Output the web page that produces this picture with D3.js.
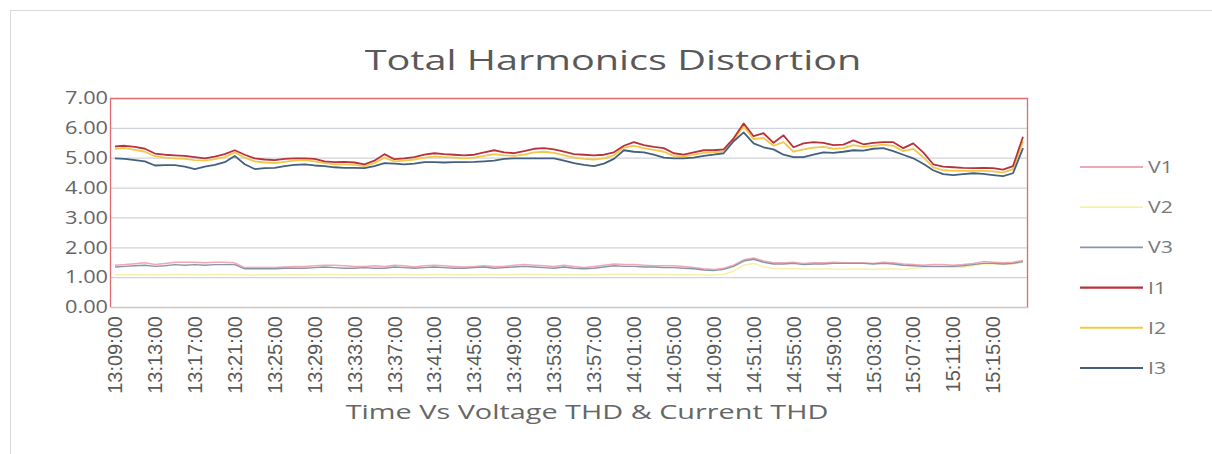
<!DOCTYPE html>
<html><head><meta charset="utf-8">
<script src="https://cdn.jsdelivr.net/npm/d3@7"></script>
<style>body{margin:0;background:#fff;}svg{display:block;}</style>
</head><body><svg id="c" width="1212" height="454"></svg>
<script>
const categories = ["13:09:00","13:10:00","13:11:00","13:12:00","13:13:00","13:14:00","13:15:00","13:16:00","13:17:00","13:18:00","13:19:00","13:20:00","13:21:00","13:22:00","13:23:00","13:24:00","13:25:00","13:26:00","13:27:00","13:28:00","13:29:00","13:30:00","13:31:00","13:32:00","13:33:00","13:34:00","13:35:00","13:36:00","13:37:00","13:38:00","13:39:00","13:40:00","13:41:00","13:42:00","13:43:00","13:44:00","13:45:00","13:46:00","13:47:00","13:48:00","13:49:00","13:50:00","13:51:00","13:52:00","13:53:00","13:54:00","13:55:00","13:56:00","13:57:00","13:58:00","13:59:00","14:00:00","14:01:00","14:02:00","14:03:00","14:04:00","14:05:00","14:06:00","14:07:00","14:08:00","14:09:00","14:48:00","14:49:00","14:50:00","14:51:00","14:52:00","14:53:00","14:54:00","14:55:00","14:56:00","14:57:00","14:58:00","14:59:00","15:00:00","15:01:00","15:02:00","15:03:00","15:04:00","15:05:00","15:06:00","15:07:00","15:08:00","15:09:00","15:10:00","15:11:00","15:12:00","15:13:00","15:14:00","15:15:00","15:16:00","15:17:00","15:18:00"];
const tickLabels = ["13:09:00","13:13:00","13:17:00","13:21:00","13:25:00","13:29:00","13:33:00","13:37:00","13:41:00","13:45:00","13:49:00","13:53:00","13:57:00","14:01:00","14:05:00","14:09:00","14:51:00","14:55:00","14:59:00","15:03:00","15:07:00","15:11:00","15:15:00"];
const yTicks = [0,1,2,3,4,5,6,7];

const V1 = [1.40,1.42,1.45,1.48,1.42,1.46,1.50,1.50,1.50,1.48,1.50,1.50,1.48,1.32,1.32,1.32,1.32,1.34,1.36,1.36,1.38,1.40,1.40,1.38,1.36,1.36,1.38,1.36,1.40,1.38,1.34,1.38,1.40,1.38,1.36,1.34,1.36,1.38,1.36,1.36,1.40,1.42,1.40,1.38,1.36,1.40,1.36,1.32,1.36,1.40,1.44,1.42,1.42,1.40,1.38,1.38,1.38,1.36,1.32,1.28,1.26,1.30,1.40,1.58,1.64,1.54,1.48,1.48,1.50,1.46,1.48,1.48,1.50,1.48,1.48,1.48,1.46,1.50,1.48,1.44,1.42,1.40,1.42,1.42,1.40,1.42,1.46,1.52,1.50,1.48,1.50,1.56];
const V2 = [1.08,1.08,1.09,1.08,1.07,1.08,1.09,1.09,1.08,1.08,1.09,1.09,1.08,1.07,1.07,1.08,1.08,1.08,1.09,1.08,1.08,1.09,1.09,1.08,1.08,1.08,1.09,1.08,1.09,1.09,1.08,1.08,1.09,1.09,1.08,1.08,1.08,1.09,1.09,1.08,1.09,1.10,1.09,1.09,1.08,1.09,1.08,1.08,1.08,1.09,1.10,1.10,1.10,1.09,1.09,1.09,1.08,1.08,1.08,1.07,1.07,1.10,1.20,1.40,1.46,1.34,1.30,1.28,1.28,1.27,1.27,1.27,1.27,1.26,1.27,1.27,1.26,1.27,1.27,1.26,1.30,1.32,1.33,1.33,1.32,1.34,1.38,1.44,1.44,1.42,1.44,1.50];
const V3 = [1.34,1.36,1.38,1.40,1.36,1.38,1.42,1.40,1.42,1.40,1.42,1.42,1.42,1.28,1.28,1.28,1.28,1.30,1.30,1.30,1.32,1.34,1.32,1.30,1.30,1.32,1.30,1.30,1.34,1.32,1.30,1.32,1.34,1.32,1.30,1.30,1.32,1.34,1.30,1.32,1.34,1.36,1.34,1.32,1.30,1.34,1.30,1.28,1.30,1.34,1.38,1.36,1.36,1.34,1.34,1.32,1.32,1.30,1.28,1.24,1.22,1.26,1.36,1.54,1.60,1.50,1.44,1.44,1.46,1.42,1.44,1.44,1.46,1.46,1.46,1.46,1.44,1.46,1.44,1.40,1.38,1.36,1.36,1.36,1.36,1.38,1.42,1.46,1.46,1.44,1.46,1.52];
const I1 = [5.38,5.40,5.36,5.30,5.14,5.10,5.08,5.06,5.02,4.98,5.04,5.12,5.25,5.10,4.98,4.94,4.92,4.96,4.98,4.98,4.96,4.88,4.85,4.86,4.84,4.78,4.90,5.12,4.95,4.98,5.02,5.10,5.15,5.12,5.10,5.08,5.10,5.18,5.25,5.18,5.15,5.22,5.30,5.32,5.28,5.20,5.12,5.10,5.08,5.10,5.18,5.40,5.52,5.42,5.36,5.32,5.15,5.10,5.18,5.25,5.25,5.28,5.65,6.15,5.72,5.82,5.50,5.75,5.35,5.48,5.52,5.50,5.42,5.44,5.58,5.45,5.50,5.52,5.52,5.32,5.48,5.18,4.78,4.70,4.68,4.66,4.65,4.66,4.65,4.60,4.72,5.70];
const I2 = [5.30,5.32,5.26,5.20,5.05,5.00,4.98,4.96,4.92,4.90,4.95,5.02,5.18,5.00,4.88,4.84,4.82,4.86,4.90,4.92,4.88,4.82,4.78,4.78,4.76,4.72,4.82,5.00,4.88,4.90,4.94,5.00,5.04,5.02,5.00,4.98,5.00,5.06,5.12,5.08,5.06,5.10,5.18,5.20,5.16,5.08,5.00,4.96,4.94,4.98,5.08,5.34,5.40,5.32,5.26,5.20,5.06,5.04,5.10,5.16,5.18,5.22,5.60,6.05,5.62,5.66,5.40,5.52,5.20,5.28,5.34,5.36,5.30,5.32,5.42,5.36,5.40,5.44,5.40,5.22,5.30,5.02,4.68,4.58,4.56,4.56,4.56,4.56,4.54,4.50,4.62,5.55];
const I3 = [4.98,4.96,4.92,4.88,4.74,4.75,4.75,4.70,4.62,4.70,4.76,4.85,5.06,4.78,4.62,4.65,4.66,4.72,4.76,4.78,4.74,4.72,4.68,4.66,4.66,4.65,4.72,4.82,4.80,4.78,4.80,4.85,4.85,4.84,4.85,4.85,4.86,4.88,4.90,4.96,4.98,4.98,4.98,4.98,4.98,4.90,4.82,4.76,4.72,4.80,4.96,5.25,5.20,5.18,5.10,5.00,4.98,4.98,5.00,5.06,5.10,5.15,5.55,5.85,5.48,5.35,5.28,5.10,5.02,5.02,5.10,5.18,5.16,5.20,5.25,5.24,5.30,5.32,5.22,5.10,4.98,4.80,4.58,4.45,4.42,4.45,4.48,4.46,4.42,4.38,4.48,5.32];

const seriesNames = ["V1","V2","V3","I1","I2","I3"];
const seriesData = [V1,V2,V3,I1,I2,I3];
const colors = {V1:"#f0a8b4",V2:"#f8f0a8",V3:"#8a96a8",I1:"#b8323c",I2:"#f2c84a",I3:"#44607e"};
const widths = {V1:1.5,V2:1.5,V3:1.4,I1:1.8,I2:1.8,I3:1.8};

const svg = d3.select("#c");
const font = "'Open Sans', sans-serif";
const m = {l:110, r:1028, t:98, b:307};

// stretch a text element horizontally around its anchor so it spans `w` px
function fitWidth(sel, w, anchorX) {
  sel.each(function(){
    const t = d3.select(this);
    const cur = this.getComputedTextLength();
    const s = w / cur;
    t.attr("transform", `translate(${anchorX},0) scale(${s},1) translate(${-anchorX},0)`);
  });
}

// outer frame
svg.append("rect").attr("x",10.5).attr("y",10.5).attr("width",1220).attr("height",460)
  .attr("fill","none").attr("stroke","#d9d9d9");

const x = d3.scaleBand().domain(categories).range([m.l, m.r]);
const y = d3.scaleLinear().domain([0,7]).range([m.b, m.t]);

// gridlines
svg.append("g").selectAll("line").data(yTicks.filter(d=>d>0)).join("line")
  .attr("x1",m.l).attr("x2",m.r).attr("y1",d=>y(d)+0.5).attr("y2",d=>y(d)+0.5)
  .attr("stroke","#cfd4da").attr("stroke-width",1.2);

// y axis labels
const yAxis = d3.axisLeft(y).tickValues(yTicks).tickFormat(d3.format(".2f")).tickSize(0).tickPadding(0);
const gy = svg.append("g").attr("transform",`translate(${m.l},0)`).call(yAxis);
gy.select(".domain").remove();
gy.selectAll("text").attr("font-family",font).attr("font-size",18).attr("fill","#666").attr("x",-2)
  .each(function(){
    const cur = this.getComputedTextLength();
    d3.select(this).attr("transform",`translate(-2,0) scale(${43/cur},1) translate(2,0)`);
  });

// x axis
const xAxis = d3.axisBottom(x).tickValues(tickLabels).tickSize(0).tickPadding(6);
const gx = svg.append("g").attr("transform",`translate(0,${m.b})`).call(xAxis);
gx.select(".domain").attr("stroke","#c8c8c8").attr("stroke-width",1.3);
gx.selectAll("text").attr("font-family","'Liberation Sans',sans-serif").attr("font-size",20).attr("fill","#5a5a5a")
  .attr("transform","rotate(-90)").attr("text-anchor","end").attr("dy","0.36em").attr("y",0).attr("x",-9)
  .attr("textLength",null);

// plot border (red)
svg.append("path").attr("d",`M${m.l+0.5},${m.b} V${m.t+0.5} H${m.r-0.5} V${m.b}`)
  .attr("fill","none").attr("stroke","#e06a70").attr("stroke-width",1.3);

// lines
const line = d3.line().x((d,i)=>x(categories[i])+x.bandwidth()/2).y(d=>y(d));
const order = [1,0,2,4,5,3];
svg.append("g").selectAll("path").data(order).join("path")
  .attr("d",k=>line(seriesData[k])).attr("fill","none")
  .attr("stroke",k=>colors[seriesNames[k]]).attr("stroke-width",k=>widths[seriesNames[k]])
  .attr("stroke-linejoin","round");

// title
const title = svg.append("text").attr("x",613).attr("y",70).attr("text-anchor","middle")
  .attr("font-family",font).attr("font-size",27).attr("fill","#595959").text("Total Harmonics Distortion");
fitWidth(title, 497, 613);
// axis title
const xt = svg.append("text").attr("x",587).attr("y",419).attr("text-anchor","middle")
  .attr("font-family",font).attr("font-size",20).attr("fill","#666").text("Time Vs Voltage THD & Current THD");
fitWidth(xt, 483, 587);

// legend
const lg = svg.append("g").selectAll("g").data(seriesNames).join("g")
  .attr("transform",(d,i)=>`translate(1080,${167+i*40.2})`);
lg.append("line").attr("x1",0).attr("x2",63).attr("y1",0).attr("y2",0)
  .attr("stroke",d=>colors[d]).attr("stroke-width",d=>widths[d]+0.3);
lg.append("text").attr("x",68).attr("y",6).attr("font-family",font).attr("font-size",17).attr("fill","#777").text(d=>d)
  .each(function(){
    const cur = this.getComputedTextLength();
    d3.select(this).attr("transform",`translate(68,0) scale(1.25,1) translate(-68,0)`);
  });
</script></body></html>
